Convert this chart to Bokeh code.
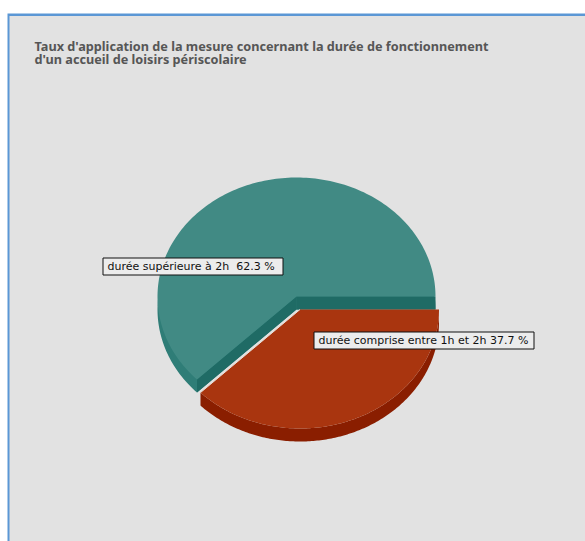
import numpy as np
from bokeh.plotting import figure
from bokeh.models import Range1d
from bokeh.core.properties import value
from bokeh.embed import file_html
from bokeh.resources import INLINE

title_lines = ["Taux d'application de la mesure concernant la durée de fonctionnement",
               "d'un accueil de loisirs périscolaire"]
categories = ["durée comprise entre 1h et 2h", "durée supérieure à 2h"]
percent = [37.7, 62.3]

BG, BLUE = "#e2e2e2", "#5b97d5"
W, H = 585, 541
p = figure(width=W, height=H, output_backend="svg", toolbar_location=None,
           x_range=Range1d(0, W), y_range=Range1d(H, 0),
           min_border=0, outline_line_color=None, background_fill_color="white",
           border_fill_color="white")
p.axis.visible = False
p.grid.visible = False

# panel
p.quad(left=[7], right=[W], top=[13], bottom=[H], fill_color=BLUE, line_color=None)
p.quad(left=[9], right=[W], top=[15.5], bottom=[H], fill_color=BG, line_color=None)

# title
p.text(x=[34, 34], y=[45, 58], text=title_lines, text_font=value("Noto Sans"),
       text_font_style="bold", text_font_size="12.7px", text_color="#565656",
       text_baseline="middle", text_align="left")

# pie geometry
RX, RY, DEPTH = 139, 119, 13
split = percent[0] / 100 * 2 * np.pi

def slice_pts(cx, cy, a0, a1):
    t = np.linspace(a0, a1, 181)
    return ([cx] + list(cx + RX * np.cos(t)), [cy] + list(cy + RY * np.sin(t)))

# teal slice
tc = (296, 296)
xs, ys = slice_pts(tc[0], tc[1], split, 2 * np.pi)
p.patch(xs, [y + DEPTH for y in ys], fill_color="#2f7d77", line_color=None)
ex, ey = xs[1], ys[1]
p.patch([tc[0], tc[0] + RX, tc[0] + RX, tc[0]],
        [tc[1], tc[1], tc[1] + DEPTH, tc[1] + DEPTH], fill_color="#1f6b65", line_color=None)
p.patch([tc[0], ex, ex, tc[0]], [tc[1], ey, ey + DEPTH, tc[1] + DEPTH],
        fill_color="#1f6b65", line_color=None)
p.patch(xs, ys, fill_color="#418a84", line_color=None)

# red slice: the side is the band between the arc and the same arc moved down
rc = (299.5, 309)
xs, ys = slice_pts(rc[0], rc[1], 0, split)
p.patch(xs[1:] + xs[:0:-1], ys[1:] + [y + DEPTH for y in ys[:0:-1]],
        fill_color="#8a1e00", line_color=None)
p.patch(xs, ys, fill_color="#a9350f", line_color=None)
p.line([rc[0], xs[-1]], [rc[1], ys[-1]], line_color="#e8e0d8", line_width=1)

# labels
labels = [f"{categories[1]} \u00a0{percent[1]} %", f"{categories[0]} {percent[0]} %"]
p.quad(left=[102.5, 313.5], right=[282.5, 533.5], top=[257.5, 331.5], bottom=[274.5, 348.5],
       fill_color="#ececec", line_color="#111111", line_width=1)
p.text(x=[107, 318], y=[266, 340], text=labels, text_font=value("DejaVu Sans"),
       text_font_size="11px", text_color="#111111", text_baseline="middle", text_align="left")

open("out.html", "w").write(file_html(p, INLINE))
